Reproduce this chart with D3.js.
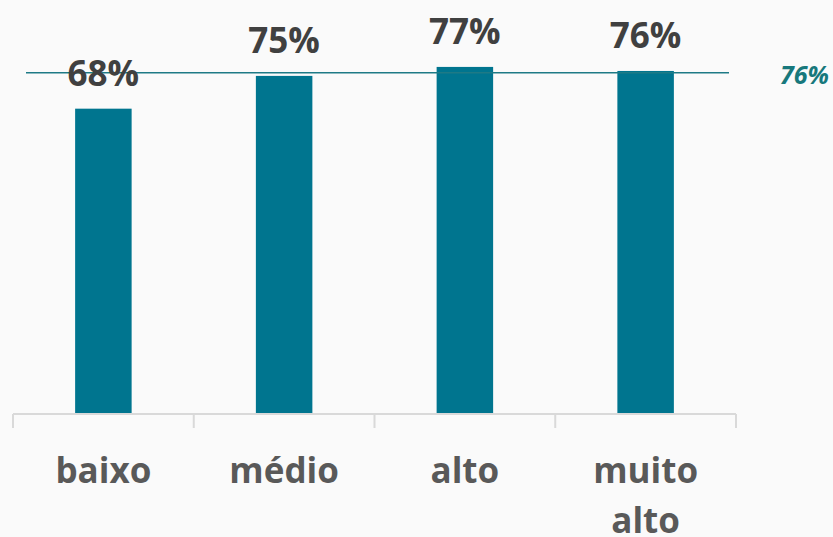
<!DOCTYPE html>
<html><head><meta charset="utf-8">
<script src="https://cdn.jsdelivr.net/npm/d3@7"></script>
<style>
html,body{margin:0;padding:0;background:#fafafa;}
svg{display:block;}
</style></head>
<body>
<svg id="chart" width="833" height="537"></svg>
<script>
const categories = ["baixo", "médio", "alto", "muito alto"];
const values = [68.0, 75.3, 77.3, 76.4];
const average = 76;
const valueLabels = ["68%", "75%", "77%", "76%"];
const averageLabel = "76%";

const W = 833, H = 537;
const svg = d3.select("#chart");
svg.append("rect").attr("width", W).attr("height", H).attr("fill", "#fafafa");

const x = d3.scaleBand().domain(categories).range([13, 736]).padding(0);
const y = d3.scaleLinear().domain([0, 100]).range([414, -35]);
const barW = 56.5;
const font = "'Open Sans', 'Noto Sans', sans-serif";

// bars
svg.selectAll("rect.bar").data(categories).enter().append("rect")
  .attr("class", "bar")
  .attr("x", d => x(d) + (x.bandwidth() - barW) / 2)
  .attr("width", barW)
  .attr("y", (d, i) => y(values[i]))
  .attr("height", (d, i) => y(0) - y(values[i]))
  .attr("fill", "#00758f");

// average line
svg.append("line")
  .attr("x1", 26).attr("x2", 729)
  .attr("y1", y(average)).attr("y2", y(average))
  .attr("stroke", "#1e7a86").attr("stroke-width", 1.4);

svg.append("text")
  .attr("x", 829).attr("y", y(average) + 11.5)
  .attr("text-anchor", "end")
  .attr("font-family", font).attr("font-weight", 700).attr("font-style", "italic")
  .attr("font-size", 25).attr("fill", "#17787c")
  .text(averageLabel);

// value labels
svg.selectAll("text.val").data(categories).enter().append("text")
  .attr("class", "val")
  .attr("x", d => x(d) + x.bandwidth() / 2)
  .attr("y", (d, i) => y(values[i]) - 23)
  .attr("text-anchor", "middle")
  .attr("font-family", font).attr("font-weight", 700)
  .attr("font-size", 35).attr("fill", "#404040")
  .text((d, i) => valueLabels[i]);

// axis
const axisG = svg.append("g").attr("transform", `translate(0,${y(0)})`);
axisG.append("line").attr("x1", 13).attr("x2", 736).attr("y1", 0).attr("y2", 0)
  .attr("stroke", "#d9d9d9").attr("stroke-width", 2);
const tickPos = categories.map(d => x(d)).concat([x(categories[categories.length - 1]) + x.bandwidth()]);
axisG.selectAll("line.tick").data(tickPos).enter().append("line")
  .attr("class", "tick")
  .attr("x1", d => d).attr("x2", d => d)
  .attr("y1", 0).attr("y2", 14)
  .attr("stroke", "#d9d9d9").attr("stroke-width", 2);

// category labels
const catText = svg.selectAll("text.cat").data(categories).enter().append("text")
  .attr("class", "cat")
  .attr("x", d => x(d) + x.bandwidth() / 2)
  .attr("y", 483)
  .attr("text-anchor", "middle")
  .attr("font-family", font).attr("font-weight", 700)
  .attr("font-size", 35).attr("fill", "#595959");
catText.each(function(d) {
  const words = d.split(" ");
  const t = d3.select(this);
  words.forEach((w, i) => {
    t.append("tspan").attr("x", x(d) + x.bandwidth() / 2)
      .attr("dy", i === 0 ? 0 : 50).text(w);
  });
});
</script>
</body></html>
